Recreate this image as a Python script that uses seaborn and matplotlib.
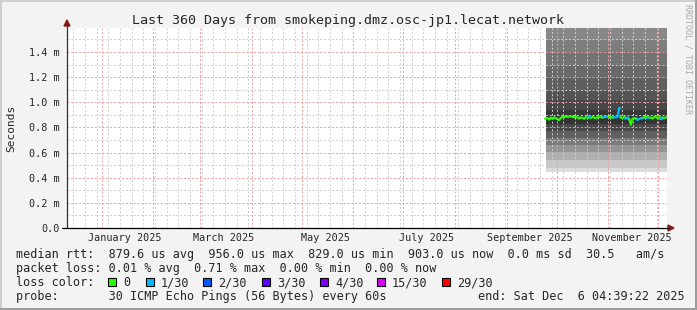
import matplotlib
matplotlib.use("Agg")
import matplotlib.pyplot as plt
import matplotlib.dates as mdates
from matplotlib.ticker import MultipleLocator, FixedLocator
from matplotlib.patches import Polygon, Rectangle
from matplotlib.lines import Line2D
import seaborn as sns
import pandas as pd

# ---------------- data ----------------
title = "Last 360 Days from smokeping.dmz.osc-jp1.lecat.network"
y_ticks = [0.0, 0.2, 0.4, 0.6, 0.8, 1.0, 1.2, 1.4]
y_tick_labels = ["0.0", "0.2 m", "0.4 m", "0.6 m", "0.8 m", "1.0 m", "1.2 m", "1.4 m"]
month_labels = ["January 2025", "March 2025", "May 2025", "July 2025",
                "September 2025", "November 2025"]
month_label_dates = ["2025-01-15", "2025-03-15", "2025-05-15", "2025-07-15",
                     "2025-09-15", "2025-11-15"]
x_start = "2024-12-11 04:39:22"
x_end = "2025-12-06 04:39:22"
data_start = "2025-09-24 12:00"

# median RTT (ms), one value per day
median_ms = [
    0.870, 0.875, 0.862, 0.878, 0.868, 0.880, 0.872, 0.865, 0.858, 0.876,
    0.884, 0.882, 0.888, 0.885, 0.887, 0.889, 0.884, 0.880, 0.886, 0.878,
    0.872, 0.880, 0.875, 0.869, 0.882, 0.878, 0.884, 0.876, 0.883, 0.879,
    0.874, 0.880, 0.885, 0.882, 0.878, 0.884, 0.882, 0.886, 0.880, 0.883,
    0.878, 0.882, 0.880, 0.884, 0.955, 0.880, 0.876, 0.882, 0.872, 0.878,
    0.870, 0.822, 0.868, 0.874, 0.870, 0.862, 0.866, 0.872, 0.876, 0.880,
    0.884, 0.872, 0.880, 0.878, 0.870, 0.882, 0.884, 0.876, 0.880, 0.868,
    0.878, 0.874, 0.880,
]
# lost pings out of 30, per day
loss_count = [
    0, 0, 0, 0, 0, 0, 0, 0, 0, 0,
    0, 0, 0, 0, 0, 0, 0, 0, 0, 0,
    0, 0, 0, 0, 0, 0, 1, 0, 0, 0,
    0, 0, 0, 0, 0, 1, 1, 0, 0, 0,
    0, 1, 1, 1, 1, 0, 0, 0, 1, 1,
    0, 0, 0, 0, 0, 1, 1, 1, 0, 0,
    0, 1, 0, 0, 0, 0, 0, 0, 0, 1,
    0, 0, 0,
]
# smoke bands (ms edges, bottom to top) and their grey shades
smoke_edges_ms = [0.446, 0.478, 0.541, 0.605, 0.661, 0.717, 0.772, 0.828, 0.884,
                  0.939, 1.019, 1.099, 1.194, 1.298, 1.401, 1.497, 1.70]
smoke_grays = ["#dcdcdc", "#c8c8c8", "#b0b0b0", "#959595", "#7a7a7a", "#606060",
               "#484848", "#343434", "#373737", "#474747", "#545454", "#5f5f5f",
               "#696969", "#737373", "#7d7d7d", "#888888"]

loss_labels = ["0", "1/30", "2/30", "3/30", "4/30", "15/30", "29/30"]
loss_levels = [0, 1, 2, 3, 4, 15, 29]
loss_colors = ["#26ff00", "#00b8ff", "#0059ff", "#5e00ff", "#7e00ff", "#dd00ff", "#ff0000"]

legend_line1 = ("median rtt:  879.6 us avg  956.0 us max  829.0 us min  "
                "903.0 us now  0.0 ms sd  30.5   am/s")
legend_line2 = "packet loss: 0.01 % avg  0.71 % max  0.00 % min  0.00 % now"
probe_text = "probe:       30 ICMP Echo Pings (56 Bytes) every 60s"
end_text = "end: Sat Dec  6 04:39:22 2025"

# ---------------- layout ----------------
W, H = 697, 310
MONO = "DejaVu Sans Mono"
sns.set_style("white")
plt.rcParams["font.family"] = [MONO, "DejaVu Sans"]


def fx(px):
    return px / W


def fy(py):
    return 1 - py / H


fig = plt.figure(figsize=(W / 100, H / 100), dpi=100, facecolor="#f3f3f3")
ax = fig.add_axes([fx(67), fy(228), 600 / W, 200 / H])
ax.set_facecolor("white")

t_data = pd.date_range(data_start, periods=len(median_ms), freq="D")
t0 = pd.Timestamp(data_start)
t1 = pd.Timestamp(x_end)

# smoke
for i, g in enumerate(smoke_grays):
    ax.fill_between([t0, t1], [smoke_edges_ms[i]] * 2, [smoke_edges_ms[i + 1]] * 2,
                    color=g, lw=0, zorder=1)

# median line coloured by loss
rows = []
seg = 0
half = pd.Timedelta(hours=12)
i = 0
n = len(median_ms)
while i < n:
    j = i
    while j + 1 < n and loss_count[j + 1] == loss_count[i]:
        j += 1
    lab = loss_labels[loss_levels.index(loss_count[i])]
    xs = [t_data[i] - half] + list(t_data[i:j + 1]) + [min(t_data[j] + half, t1)]
    ys = [median_ms[i]] + median_ms[i:j + 1] + [median_ms[j]]
    for xx, yy in zip(xs, ys):
        rows.append({"t": xx, "v": yy, "seg": seg, "loss": lab})
    seg += 1
    i = j + 1
df = pd.DataFrame(rows)
palette = dict(zip(loss_labels, loss_colors))
sns.lineplot(data=df, x="t", y="v", hue="loss", units="seg", estimator=None,
             palette=palette, sort=False, legend=False, lw=1.6, ax=ax, zorder=3)

ax.set_xlim(pd.Timestamp(x_start), t1)
ax.set_ylim(0, 1.591)

# grids
ax.set_axisbelow(False)
ax.xaxis.set_major_locator(mdates.MonthLocator())
ax.xaxis.set_minor_locator(mdates.WeekdayLocator(byweekday=mdates.SU))
ax.yaxis.set_major_locator(FixedLocator(y_ticks))
ax.yaxis.set_minor_locator(MultipleLocator(0.1))
ax.grid(which="minor", color="#cfcfcf", lw=0.7, ls=(0, (2, 2)))
ax.grid(which="major", color="#f09a9a", lw=0.7, ls=(0, (2, 2)))
ax.set_xticklabels([])
ax.set_yticks(y_ticks)
ax.set_yticklabels(y_tick_labels, fontsize=7.3, family=MONO)
ax.tick_params(axis="y", which="major", length=3.5, width=0.8, color="#404040", pad=2)
ax.tick_params(axis="y", which="minor", length=1.5, width=0.6, color="#808080")
ax.tick_params(axis="x", which="major", length=2.5, width=0.7, color="#f09090")
ax.tick_params(axis="x", which="minor", length=1.5, width=0.6, color="#a0a0a0")
ax.set_xlabel("")
ax.set_ylabel("")
for s in ax.spines.values():
    s.set_visible(False)

xt = ax.get_xaxis_transform()
for lab, d in zip(month_labels, month_label_dates):
    ax.text(pd.Timestamp(d), -(241 - 228) / 200, lab, transform=xt,
            ha="center", va="baseline", fontsize=7.3, family=MONO)

# axes lines and arrows
fig.add_artist(Line2D([fx(67), fx(67)], [fy(228), fy(24)], color="#303030", lw=0.9))
fig.add_artist(Line2D([fx(62), fx(669)], [fy(228), fy(228)], color="#000000", lw=0.9))
fig.add_artist(Polygon([[fx(67), fy(20)], [fx(64), fy(26)], [fx(70), fy(26)]],
                       closed=True, color="#8b1a1a", transform=fig.transFigure))
fig.add_artist(Polygon([[fx(674), fy(228)], [fx(668), fy(225)], [fx(668), fy(231)]],
                       closed=True, color="#8b1a1a", transform=fig.transFigure))

# borders
fig.add_artist(Rectangle((0, fy(2)), 1, 2 / H, color="#cfcfcf", transform=fig.transFigure, lw=0))
fig.add_artist(Rectangle((0, 0), 2 / W, 1, color="#cfcfcf", transform=fig.transFigure, lw=0))
fig.add_artist(Rectangle((0, 0), 1, 2 / H, color="#9e9e9e", transform=fig.transFigure, lw=0))
fig.add_artist(Rectangle((fx(695), 0), 2 / W, 1, color="#9e9e9e", transform=fig.transFigure, lw=0))

# texts
fig.text(fx(348), fy(24), title, ha="center", va="baseline", fontsize=9.6, family=MONO)
fig.text(fx(11), fy(128), "Seconds", rotation=90, ha="center", va="center",
         fontsize=8, family=MONO)
fig.text(fx(688), fy(59), "RRDTOOL / TOBI OETIKER", rotation=270, ha="center",
         va="center", fontsize=6, family=MONO, color="#a8a8a8")

fig.text(fx(16), fy(258), legend_line1, ha="left", va="baseline", fontsize=8.5, family=MONO)
fig.text(fx(16), fy(272), legend_line2, ha="left", va="baseline", fontsize=8.5, family=MONO)
fig.text(fx(16), fy(286), "loss color:", ha="left", va="baseline", fontsize=8.5, family=MONO)
square_x = [108, 146, 203, 262, 320, 377, 442]
for lab, col, sx in zip(loss_labels, loss_colors, square_x):
    fig.add_artist(Rectangle((fx(sx), fy(286)), 8 / W, 8 / H, facecolor=col,
                             edgecolor="black", lw=0.8, transform=fig.transFigure))
    fig.text(fx(sx + 15), fy(286), lab, ha="left", va="baseline", fontsize=8.5, family=MONO)
fig.text(fx(16), fy(300), probe_text, ha="left", va="baseline", fontsize=8.5, family=MONO)
fig.text(fx(478), fy(300), end_text, ha="left", va="baseline", fontsize=8.5, family=MONO)

fig.savefig("out.png", dpi=100, facecolor=fig.get_facecolor())
